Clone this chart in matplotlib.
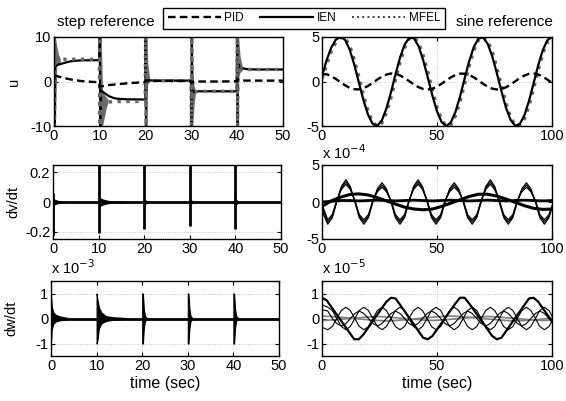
import matplotlib.pyplot as plt
from matplotlib.lines import Line2D

plt.rcParams['font.family'] = ['Liberation Sans', 'DejaVu Sans']
plt.rcParams['font.size'] = 10.5
plt.rcParams['axes.unicode_minus'] = False

# ---------------- step reference (left column) ----------------
t_step = [0, 0.1, 0.2, 0.5, 1, 2, 3, 4, 6, 9.9,
          10, 10.1, 10.2, 10.5, 11, 12, 13, 14, 16, 19.9,
          20, 20.1, 20.2, 20.5, 21, 22, 23, 24, 26, 29.9,
          30, 30.1, 30.2, 30.5, 31, 32, 33, 34, 36, 39.9,
          40, 40.1, 40.2, 40.5, 41, 42, 43, 44, 46, 50]
u_pid_step = [1.4, 1.35, 1.3, 1.25, 1.1, 0.8, 0.6, 0.4, 0.1, -0.2,
              -1.2, -1.15, -1.1, -1.05, -1.0, -0.8, -0.7, -0.6, -0.4, -0.15,
              0.3, 0.25, 0.2, 0.2, 0.2, 0.15, 0.15, 0.15, 0.15, 0.1,
              -0.4, -0.3, -0.2, -0.1, 0.0, 0.0, 0.0, 0.0, 0.0, 0.05,
              0.6, 0.5, 0.4, 0.3, 0.25, 0.2, 0.2, 0.2, 0.2, 0.2]
u_ien_step = [10, -10, 3.4, 3.6, 3.8, 4.1, 4.4, 4.6, 4.75, 4.8,
              10, -10, -2.0, -2.2, -2.6, -3.3, -3.7, -3.9, -4.0, -4.05,
              10, -10, 0.4, 0.3, 0.25, 0.2, 0.2, 0.2, 0.2, 0.2,
              -10, 10, -2.6, -2.3, -2.2, -2.2, -2.2, -2.2, -2.2, -2.2,
              10, -10, 4.0, 3.3, 3.0, 2.8, 2.75, 2.7, 2.7, 2.7]
u_mfel_step = [10, -10, 5.6, 5.2, 5.0, 5.0, 5.0, 5.0, 5.0, 5.0,
               -10, 10, -10, -5.5, -4.8, -4.6, -4.55, -4.5, -4.5, -4.5,
               10, -10, 1.0, 0.3, 0.2, 0.2, 0.2, 0.2, 0.2, 0.2,
               -10, 10, -3.5, -2.5, -2.3, -2.2, -2.2, -2.2, -2.2, -2.2,
               10, -10, 4.5, 3.2, 2.8, 2.7, 2.7, 2.7, 2.7, 2.7]

steps = [0, 10, 20, 30, 40]
# grey transient band of u after each step change
u_burst_dt = [[0, 0.3, 0.6, 1.0, 1.4],
              [0, 0.3, 0.6, 1.0, 1.4, 1.8],
              [0, 0.3, 0.5, 0.9],
              [0, 0.3, 0.6, 0.9],
              [0, 0.3, 0.6, 1.1]]
u_burst_hi = [[10, 10, 8, 6, 5],
              [10, 10, -2.5, -3, -3.5, -4],
              [10, 10, 4, 0.5],
              [10, 2, -1, -2],
              [10, 10, 6, 3.2]]
u_burst_lo = [[-10, -10, 3.5, 4, 4.5],
              [-10, -10, -10, -8, -6, -4.6],
              [-10, -2, -0.5, 0],
              [-10, -10, -5, -2.5],
              [-10, 1, 2, 2.5]]

# dv/dt spikes at the step changes
dv_spike_hi = [0.06, 0.25, 0.25, 0.25, 0.25]
dv_spike_lo = [-0.22, -0.21, -0.18, -0.16, -0.18]
dv_tail_dt = [[0, 0.3, 1, 2, 3],
              [0, 0.3, 1, 2, 3, 5, 7],
              [0, 0.3, 0.8],
              [0, 0.3, 0.8],
              [0, 0.3, 0.8]]
dv_tail_hi = [[0.03, 0.02, 0.012, 0.008, 0.004],
              [0.04, 0.03, 0.02, 0.012, 0.008, 0.006, 0.003],
              [0.03, 0.015, 0.005],
              [0.03, 0.015, 0.005],
              [0.03, 0.015, 0.005]]

# dw/dt transients (x 1e-3)
dw_dt = [[0, 0.15, 0.5, 1.0, 2.0, 3.5],
         [0, 0.15, 0.5, 1.0, 2.0, 3.5, 6.5],
         [0, 0.15, 0.35, 0.6, 1.0],
         [0, 0.15, 0.35, 0.6, 1.0],
         [0, 0.15, 0.35, 0.6, 1.0]]
dw_hi = [[0.9, 0.5, 0.25, 0.15, 0.08, 0.03],
         [1.0, 0.8, 0.45, 0.25, 0.1, 0.05, 0.02],
         [1.0, 1.0, 0.4, 0.1, 0.02],
         [1.0, 1.0, 0.4, 0.1, 0.02],
         [1.0, 1.0, 0.4, 0.1, 0.02]]
dw_lo = [[-0.9, -0.45, -0.22, -0.12, -0.07, -0.03],
         [-1.0, -0.9, -0.4, -0.2, -0.1, -0.05, -0.02],
         [-1.0, -1.0, -0.4, -0.1, -0.02],
         [-1.0, -1.0, -0.4, -0.1, -0.02],
         [-1.0, -1.0, -0.4, -0.1, -0.02]]

# ---------------- sine reference (right column) ----------------
t_sin = list(range(0, 101, 2))
u_ien_sin = [0.6, 2.4, 3.8, 4.7, 5.0, 4.70, 3.61, 1.93, -0.08, -2.07, -3.72,
             -4.75, -4.98, -4.38, -3.04, -1.20, 0.84, 2.74, 4.19, 4.93, 4.85,
             3.96, 2.40, 0.44, -1.59, -3.35, -4.56, -5.0, -4.61, -3.44, -1.70,
             0.32, 2.29, 3.88, 4.82, 4.95, 4.25, 2.85, 0.96, -1.08, -2.95,
             -4.32, -4.97, -4.78, -3.80, -2.18, -0.20, 1.82, 3.53, 4.65, 5.0]
u_mfel_sin = [0.3, 1.9, 3.4, 4.4, 4.95, 4.91, 4.04, 2.50, 0.54, -1.51, -3.31,
              -4.56, -5.04, -4.68, -3.53, -1.80, 0.23, 2.22, 3.85, 4.83, 5.0,
              4.34, 2.94, 1.06, -1.0, -2.89, -4.30, -4.99, -4.85, -3.89, -2.28,
              -0.30, 1.74, 3.49, 4.65, 5.04, 4.58, 3.36, 1.57, -0.47, -2.45,
              -4.01, -4.90, -4.96, -4.20, -2.74, -0.82, 1.24, 3.09, 4.42, 5.0]
u_pid_sin = [0.8, 0.82, 0.61, 0.29, -0.07, -0.42, -0.71, -0.87, -0.89, -0.76,
             -0.50, -0.16, 0.21, 0.54, 0.78, 0.90, 0.86, 0.68, 0.38, 0.02,
             -0.34, -0.64, -0.84, -0.90, -0.81, -0.58, -0.25, 0.11, 0.46,
             0.73, 0.88, 0.88, 0.73, 0.47, 0.12, -0.25, -0.58, -0.80, -0.90,
             -0.84, -0.65, -0.34, 0.02, 0.38, 0.67, 0.86, 0.90, 0.79, 0.55,
             0.21, -0.15]

# dv/dt, sine reference (x 1e-4)
t_fast = [0, 2.5, 4.5, 6.4, 8.4, 10.4, 12.3, 14.3, 16.2, 18.2, 20.2, 22.1,
          24.1, 26.1, 28.0, 30.0, 31.9, 33.9, 35.9, 37.8, 39.8, 41.8, 43.7,
          45.7, 47.6, 49.6, 51.6, 53.5, 55.5, 57.5, 59.4, 61.4, 63.3, 65.3,
          67.3, 69.2, 71.2, 73.2, 75.1, 77.1, 79.0, 81.0, 83.0, 84.9, 86.9,
          88.9, 90.8, 92.8, 94.7, 96.7, 98.7, 100]
dv_sin_a = [-1.2,
            -3.0, -2.1, 0, 2.1, 3.0, 2.1, 0, -2.1, -3.0, -2.1, 0, 1.8, 2.6, 1.8, 0, -2.1,
            -3.0, -2.1, 0, 2.1, 3.0, 2.1, 0, -2.1, -3.0, -2.1, 0, 1.8, 2.6, 1.8, 0, -2.1,
            -3.0, -2.1, 0, 2.1, 3.0, 2.1, 0, -2.1, -3.0, -2.1, 0, 1.8, 2.6, 1.8, 0, -2.1,
            -3.0, -2.1, -0.7]
dv_sin_b = [-0.7,
            -2.7, -1.9, 0.1, 1.9, 2.7, 1.9, 0.1, -1.9, -2.7, -1.9, 0.1, 1.6, 2.3, 1.6, 0.1, -1.9,
            -2.7, -1.9, 0.1, 1.9, 2.7, 1.9, 0.1, -1.9, -2.7, -1.9, 0.1, 1.6, 2.3, 1.6, 0.1, -1.9,
            -2.7, -1.9, 0.1, 1.9, 2.7, 1.9, 0.1, -1.9, -2.7, -1.9, 0.1, 1.6, 2.3, 1.6, 0.1, -1.9,
            -2.7, -1.9, -0.6]
dv_sin_c = [-0.3,
            -2.4, -1.7, 0.2, 1.7, 2.4, 1.7, 0.2, -1.7, -2.4, -1.7, 0.2, 1.4, 2.0, 1.4, 0.2, -1.7,
            -2.4, -1.7, 0.2, 1.7, 2.4, 1.7, 0.2, -1.7, -2.4, -1.7, 0.2, 1.4, 2.0, 1.4, 0.2, -1.7,
            -2.4, -1.7, 0.2, 1.7, 2.4, 1.7, 0.2, -1.7, -2.4, -1.7, 0.2, 1.4, 2.0, 1.4, 0.2, -1.7,
            -2.4, -1.7, -0.5]
t_slow = list(range(0, 101, 4))
dv_sin_pid = [-0.6, 0.15, 0.65, 1.0, 1.1, 0.95, 0.6, 0.15, -0.3, -0.7, -0.95,
              -1.05, -0.95, -0.6, -0.15, 0.3, 0.75, 1.05, 1.05, 0.8, 0.4,
              -0.05, -0.5, -0.85, -1.0, -0.95]
dv_sin_flat = [0.0, 0.1, 0.2, 0.2, 0.15, 0.2, 0.25, 0.2, 0.15, 0.2, 0.25, 0.2,
               0.15, 0.2, 0.25, 0.2, 0.15, 0.2, 0.25, 0.2, 0.15, 0.2, 0.25,
               0.2, 0.15, 0.2]

# dw/dt, sine reference (x 1e-5)
dw_sin_pid = [0.83, 0.73, 0.47, 0.21, -0.05, -0.31, -0.57, -0.83, -0.83, -0.64,
              -0.38, -0.11, 0.15, 0.41, 0.67, 0.83, 0.80, 0.54, 0.28, 0.02,
              -0.24, -0.51, -0.77, -0.83, -0.70, -0.44, -0.18, 0.08, 0.34,
              0.60, 0.83, 0.83, 0.60, 0.34, 0.08, -0.18, -0.44, -0.70, -0.83,
              -0.77, -0.51, -0.24, 0.02, 0.28, 0.54, 0.80, 0.83, 0.67, 0.41,
              0.15, -0.11]
dw_sin_a = [0.55,
            0.45, 0.32, 0, -0.32, -0.45, -0.32, 0, 0.32, 0.45, 0.32, 0, -0.32, -0.45, -0.32, 0, 0.32,
            0.45, 0.32, 0, -0.32, -0.45, -0.32, 0, 0.32, 0.45, 0.32, 0, -0.32, -0.45, -0.32, 0, 0.32,
            0.45, 0.32, 0, -0.32, -0.45, -0.32, 0, 0.32, 0.45, 0.32, 0, -0.32, -0.45, -0.32, 0, 0.32,
            0.45, 0.32, 0.1]
dw_sin_b = [-0.35,
            -0.45, -0.32, 0, 0.32, 0.45, 0.32, 0, -0.32, -0.45, -0.32, 0, 0.32, 0.45, 0.32, 0, -0.32,
            -0.45, -0.32, 0, 0.32, 0.45, 0.32, 0, -0.32, -0.45, -0.32, 0, 0.32, 0.45, 0.32, 0, -0.32,
            -0.45, -0.32, 0, 0.32, 0.45, 0.32, 0, -0.32, -0.45, -0.32, 0, 0.32, 0.45, 0.32, 0, -0.32,
            -0.45, -0.32, -0.1]
dw_sin_c = [0.35,
            0.3, 0, -0.2, -0.3, -0.2, 0, 0.2, 0.3, 0.2, 0, -0.2, -0.3, -0.2, 0, 0.2, 0.3,
            0.2, 0, -0.2, -0.3, -0.2, 0, 0.2, 0.3, 0.2, 0, -0.2, -0.3, -0.2, 0, 0.2, 0.3,
            0.2, 0, -0.2, -0.3, -0.2, 0, 0.2, 0.3, 0.2, 0, -0.2, -0.3, -0.2, 0, 0.2, 0.3,
            0.2, 0, -0.15]
dw_sin_grey1 = [0.1, 0.08, 0.05, 0.02, -0.02, -0.05, -0.08, -0.1, -0.08, -0.05,
                -0.02, 0.02, 0.05, 0.08, 0.1, 0.08, 0.05, 0.02, -0.02, -0.05,
                -0.08, -0.1, -0.08, -0.05, -0.02, 0.02]
dw_sin_grey2 = [-0.08, -0.06, -0.03, 0.0, 0.03, 0.06, 0.08, 0.06, 0.03, 0.0,
                -0.03, -0.06, -0.08, -0.06, -0.03, 0.0, 0.03, 0.06, 0.08, 0.06,
                0.03, 0.0, -0.03, -0.06, -0.08, -0.06]

W, H = 566, 401
fig = plt.figure(figsize=(W / 100, H / 100), dpi=100)


def box(x0, y0, x1, y1):
    # pixel box (top-left origin) -> figure fraction
    return [x0 / W, 1 - y1 / H, (x1 - x0) / W, (y1 - y0) / H]


def style(ax, xlim, ylim, xticks, yticks, yticklabels):
    ax.set_xlim(xlim)
    ax.set_ylim(ylim)
    ax.set_xticks(xticks)
    ax.set_yticks(yticks)
    ax.set_yticklabels(yticklabels)
    ax.tick_params(direction='in', top=True, right=True, length=3, width=0.8,
                   labelsize=10.5, pad=2)
    ax.grid(True, ls=':', color='0.72', lw=0.6)
    ax.set_axisbelow(True)
    for s in ax.spines.values():
        s.set_linewidth(1.0)


pid_kw = dict(color='k', lw=1.7, dashes=(3.2, 1.8))
ien_kw = dict(color='k', lw=1.6)
mfel_kw = dict(color='0.4', lw=2.4, ls=':')

ax_tl = fig.add_axes(box(54, 37, 283, 126))
ax_tr = fig.add_axes(box(322, 37, 552, 126))
ax_ml = fig.add_axes(box(53, 165, 281, 239))
ax_mr = fig.add_axes(box(322, 165, 552, 239))
ax_bl = fig.add_axes(box(51, 281, 279, 356))
ax_br = fig.add_axes(box(322, 281, 552, 356))

# u, step reference
for t0, dt, hi, lo in zip(steps, u_burst_dt, u_burst_hi, u_burst_lo):
    ax_tl.fill_between([t0 + d for d in dt], lo, hi, color='0.42', lw=0)
ax_tl.plot(t_step, u_ien_step, **ien_kw)
ax_tl.plot(t_step, u_mfel_step, **mfel_kw)
ax_tl.plot(t_step, u_pid_step, **pid_kw)
style(ax_tl, (0, 50), (-10, 10), range(0, 51, 10), [-10, 0, 10], ['-10', '0', '10'])
ax_tl.set_ylabel('u')

# u, sine reference
ax_tr.plot(t_sin, u_mfel_sin, **mfel_kw)
ax_tr.plot(t_sin, u_ien_sin, **ien_kw)
ax_tr.plot(t_sin, u_pid_sin, **pid_kw)
style(ax_tr, (0, 100), (-5, 5), [0, 50, 100], [-5, 0, 5], ['-5', '0', '5'])

# dv/dt, step reference
ax_ml.axhline(0, color='k', lw=2.0)
for t0, dt, hi in zip(steps, dv_tail_dt, dv_tail_hi):
    ax_ml.fill_between([t0 + d for d in dt], [-h for h in hi], hi, color='k', lw=0)
ax_ml.vlines(steps, dv_spike_lo, dv_spike_hi, color='k', lw=2.0)
style(ax_ml, (0, 50), (-0.25, 0.25), range(0, 51, 10), [-0.2, 0, 0.2],
      ['-0.2', '0', '0.2'])
ax_ml.set_ylabel('dv/dt')

# dv/dt, sine reference
ax_mr.plot(t_slow, dv_sin_flat, color='k', lw=2.0)
ax_mr.plot(t_slow, dv_sin_pid, color='k', lw=2.2)
for vals in (dv_sin_a, dv_sin_b, dv_sin_c):
    ax_mr.plot(t_fast, vals, color='k', lw=0.9)
style(ax_mr, (0, 100), (-5, 5), [0, 50, 100], [-5, 0, 5], ['-5', '0', '5'])
ax_mr.text(0, 1.04, r'x 10$^{-4}$', transform=ax_mr.transAxes, ha='left', va='bottom')

# dw/dt, step reference
ax_bl.axhline(0, color='k', lw=2.0)
for t0, dt, hi, lo in zip(steps, dw_dt, dw_hi, dw_lo):
    ax_bl.fill_between([t0 + d for d in dt], lo, hi, color='k', lw=0.8)
style(ax_bl, (0, 50), (-1.5, 1.5), range(0, 51, 10), [-1, 0, 1], ['-1', '0', '1'])
ax_bl.set_ylabel('dw/dt')
ax_bl.set_xlabel('time (sec)', fontsize=11.5, labelpad=2)
ax_bl.text(0, 1.06, r'x 10$^{-3}$', transform=ax_bl.transAxes, ha='left', va='bottom')

# dw/dt, sine reference
ax_br.plot(t_slow, dw_sin_grey1, color='0.5', lw=1.2)
ax_br.plot(t_slow, dw_sin_grey2, color='0.5', lw=1.2)
for vals in (dw_sin_a, dw_sin_b, dw_sin_c):
    ax_br.plot(t_fast, vals, color='k', lw=0.8)
ax_br.plot(t_sin, dw_sin_pid, color='k', lw=1.6)
style(ax_br, (0, 100), (-1.5, 1.5), [0, 50, 100], [-1, 0, 1], ['-1', '0', '1'])
ax_br.set_xlabel('time (sec)', fontsize=11.5, labelpad=2)
ax_br.text(0, 1.06, r'x 10$^{-5}$', transform=ax_br.transAxes, ha='left', va='bottom')

for ax in (ax_tl, ax_ml, ax_bl):
    ax.yaxis.set_label_coords(-0.145, 0.5)

fig.text(57 / W, 1 - 22 / H, 'step reference', ha='left', va='center', fontsize=11)
fig.text(456 / W, 1 - 22 / H, 'sine reference', ha='left', va='center', fontsize=11)

handles = [Line2D([], [], **pid_kw), Line2D([], [], **ien_kw),
           Line2D([], [], color='0.25', lw=1.4, ls=':')]
fig.legend(handles, ['PID', 'IEN', 'MFEL'], loc='lower left',
           bbox_to_anchor=(163 / W, 1 - 29 / H, (445 - 163) / W, 27 / H),
           mode='expand', ncol=3, fontsize=8.5, handlelength=4.5,
           handletextpad=0.3, borderaxespad=0, fancybox=False,
           edgecolor='k', framealpha=1)

fig.savefig('out.png', dpi=100)
